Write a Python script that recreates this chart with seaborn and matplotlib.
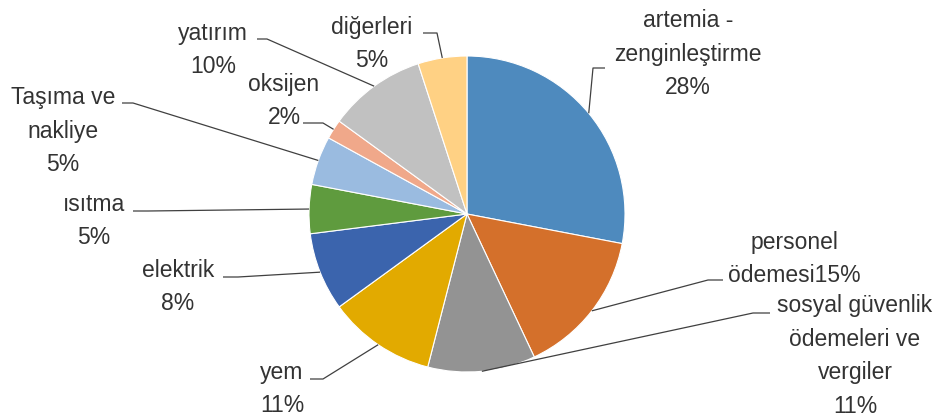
import numpy as np
import matplotlib
matplotlib.use("Agg")
import matplotlib.pyplot as plt
import seaborn as sns

# Cost breakdown (percent of total)
categories = ["artemia -\nzenginleştirme", "personel\nödemesi",
              "sosyal güvenlik\nödemeleri ve\nvergiler", "yem", "elektrik",
              "ısıtma", "Taşıma ve\nnakliye", "oksijen", "yatırım", "diğerleri"]
shares = [28, 15, 11, 11, 8, 5, 5, 2, 10, 5]
separators = ["\n", "", "\n", "\n", "\n", "\n", "\n", "\n", "\n", "\n"]

colors = ["#4E8ABE", "#D4702B", "#939393", "#E2AA00", "#3B64AD",
          "#5F9B3E", "#9ABBE0", "#F0A88A", "#C1C1C1", "#FFD184"]

sns.set_theme(style="white")
plt.rcParams["font.family"] = ["Liberation Sans", "DejaVu Sans"]

W, H = 933, 417
fig = plt.figure(figsize=(W / 100, H / 100), dpi=100)
ax = fig.add_axes([0, 0, 1, 1])

cx, cy, r = 467, H - 214, 158
wedges, _ = ax.pie(shares, colors=colors, startangle=90, counterclock=False,
                   center=(cx, cy), radius=r, frame=True,
                   wedgeprops=dict(edgecolor="white", linewidth=0.8))
ax.set_xlim(0, W)
ax.set_ylim(0, H)
ax.set_aspect("equal")
ax.axis("off")

# label block centres and leader routing (pixel space, y from top)
label_pos = [(688, 54), (794, 259), (855, 356), (282, 389), (178, 287),
             (94, 221), (63, 131), (284, 101), (213, 50), (372, 44)]
leader = [((605, 68), (593, 68)), ((723, 280), (708, 280)),
          ((770, 313), (753, 313)), ((310, 379), (323, 379)),
          ((223, 277), (238, 277)), ((133, 211), (148, 211)),
          ((122, 103), (133, 103)), ((303, 123), (323, 123)),
          ((257, 39), (267, 39)), ((423, 33), (437, 33))]

txt_color = "#333333"
for w, name, val, sep, (lx, ly), (p0, p1) in zip(
        wedges, categories, shares, separators, label_pos, leader):
    mid = np.deg2rad((w.theta1 + w.theta2) / 2)
    ex, ey = cx + r * np.cos(mid), cy + r * np.sin(mid)
    ax.plot([p0[0], p1[0], ex], [H - p0[1], H - p1[1], ey],
            color="#404040", lw=0.9, solid_capstyle="butt", zorder=3)
    ax.text(lx, H - ly, f"{name}{sep}{val}%", ha="center", va="center",
            multialignment="center", fontsize=16.5, linespacing=1.6,
            color=txt_color)

fig.savefig("out.png", dpi=100)
